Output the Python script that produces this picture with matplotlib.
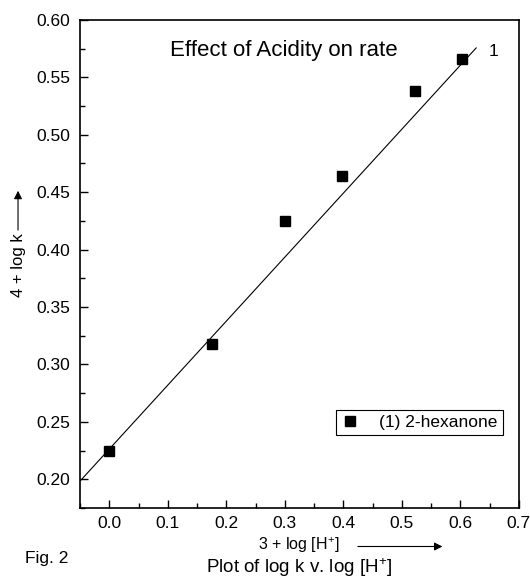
import matplotlib
matplotlib.use("Agg")
import matplotlib.pyplot as plt
from matplotlib.ticker import MultipleLocator

plt.rcParams['font.family'] = ['Liberation Sans', 'DejaVu Sans']
plt.rcParams['mathtext.fontset'] = 'custom'
plt.rcParams['mathtext.rm'] = 'Liberation Sans'
plt.rcParams['mathtext.default'] = 'regular'

# data
log_h = [0.0, 0.176, 0.301, 0.398, 0.523, 0.602]
log_k = [0.225, 0.318, 0.425, 0.464, 0.538, 0.566]
fit_x = [-0.05, 0.627]
fit_y = [0.1985, 0.5755]
series_name = "(1) 2-hexanone"

fig = plt.figure(figsize=(5.3, 5.82), dpi=100)
ax = fig.add_axes([0.151, 0.127, 0.828, 0.839])

ax.plot(fit_x, fit_y, color='black', lw=0.8)
ax.plot(log_h, log_k, ls='none', marker='s', ms=6.5, color='black', label=series_name)

ax.set_xlim(-0.05, 0.7)
ax.set_ylim(0.175, 0.60)
ax.xaxis.set_major_locator(MultipleLocator(0.1))
ax.xaxis.set_minor_locator(MultipleLocator(0.05))
ax.yaxis.set_major_locator(MultipleLocator(0.05))
ax.yaxis.set_minor_locator(MultipleLocator(0.025))
ax.xaxis.set_major_formatter(plt.FormatStrFormatter('%.1f'))
ax.yaxis.set_major_formatter(plt.FormatStrFormatter('%.2f'))
ax.tick_params(which='both', direction='in', top=False, right=False, labelsize=12.5, width=1)
ax.tick_params(which='major', length=6)
ax.tick_params(which='minor', length=3.5)
ax.tick_params(axis='y', pad=7)
ax.tick_params(axis='x', pad=6)
for s in ax.spines.values():
    s.set_linewidth(1.2)

leg = ax.legend(loc='center', bbox_to_anchor=(0.773, 0.175), fancybox=False, framealpha=1,
                edgecolor='black', fontsize=12.5, handlelength=1.0, handletextpad=1.2,
                borderpad=0.3, borderaxespad=0)
leg.get_frame().set_linewidth(0.8)

ax.text(0.657, 0.5726, "1", fontsize=12.5, ha='center', va='center')

fig.text(0.536, 0.914, "Effect of Acidity on rate", fontsize=16, ha='center', va='center')
fig.text(0.563, 0.063, r"3 + log [H$^{+}$]", fontsize=11.5, ha='center', va='center')
fig.text(0.564, 0.006, r"Plot of log k v. log [H$^{+}$]", fontsize=13.5, ha='center', va='bottom')
fig.text(0.0887, 0.041, "Fig. 2", fontsize=12.5, ha='center', va='center')
fig.text(0.034, 0.545, "4 + log k", fontsize=12, ha='center', va='center', rotation=90)

ax.annotate("", xy=(0.840, 0.061), xytext=(0.670, 0.061), xycoords='figure fraction',
            textcoords='figure fraction',
            arrowprops=dict(arrowstyle='-|>', lw=0.8, color='black', mutation_scale=12))
ax.annotate("", xy=(0.034, 0.677), xytext=(0.034, 0.600), xycoords='figure fraction',
            textcoords='figure fraction',
            arrowprops=dict(arrowstyle='-|>', lw=0.8, color='black', mutation_scale=12))

fig.savefig("out.png", dpi=100)
